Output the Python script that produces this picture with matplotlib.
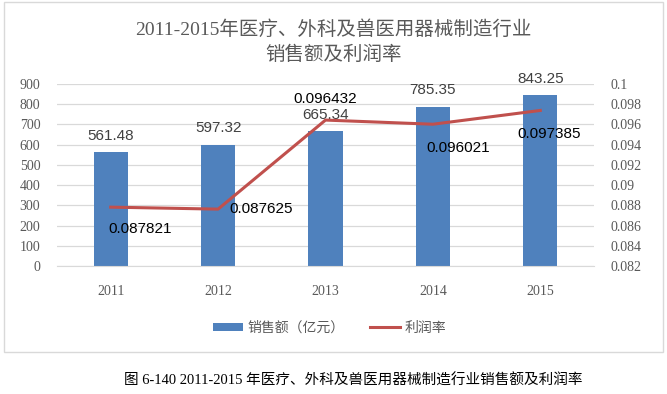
import matplotlib
matplotlib.use("Agg")
import matplotlib.pyplot as plt
from matplotlib.patches import Rectangle

plt.rcParams['font.family'] = ['Liberation Serif', 'Noto Sans CJK SC']

# data
years = ["2011", "2012", "2013", "2014", "2015"]
sales = [561.48, 597.32, 665.34, 785.35, 843.25]
profit = [0.087821, 0.087625, 0.096432, 0.096021, 0.097385]

left_ticks = [0, 100, 200, 300, 400, 500, 600, 700, 800, 900]
right_ticks = [0.082, 0.084, 0.086, 0.088, 0.09, 0.092, 0.094, 0.096, 0.098, 0.1]
right_tick_labels = ["0.082", "0.084", "0.086", "0.088", "0.09", "0.092", "0.094", "0.096", "0.098", "0.1"]

bar_color = "#4F81BD"
line_color = "#C0504D"
gray = "#595959"

fig = plt.figure(figsize=(6.67, 3.94), dpi=100)

# chart border
fig.patches.append(Rectangle((4 / 667, 1 - 352 / 394), 659 / 667, 350 / 394,
                             transform=fig.transFigure, fill=False,
                             edgecolor="#D9D9D9", linewidth=1))

ax = fig.add_axes([57 / 667, 1 - 266 / 394, 537 / 667, 182 / 394])
x = list(range(len(years)))
ax.bar(x, sales, width=0.32, color=bar_color, zorder=2, label="销售额（亿元）")
ax.set_xlim(-0.5, len(years) - 0.5)
ax.set_ylim(0, 900)
ax.set_yticks(left_ticks)
ax.set_xticks(x)
ax.set_xticklabels(years)
ax.grid(axis="y", color="#D9D9D9", linewidth=0.9, zorder=0)
for s in ax.spines.values():
    s.set_visible(False)
ax.spines["bottom"].set_visible(True)
ax.spines["bottom"].set_color("#D9D9D9")
ax.tick_params(axis="both", length=0, colors=gray, labelsize=10)
ax.tick_params(axis="x", pad=14)
ax.tick_params(axis="y", pad=12)

for xi, v in zip(x, sales):
    ax.annotate(f"{v:.2f}", (xi, v), xytext=(0, 7), textcoords="offset points",
                ha="center", va="bottom", fontsize=11, color="#404040",
                family=["Liberation Sans", "Noto Sans CJK SC"])

ax2 = ax.twinx()
ax2.plot(x, profit, color=line_color, linewidth=2.2, zorder=3, label="利润率")
ax2.set_ylim(0.082, 0.1)
ax2.set_yticks(right_ticks)
ax2.set_yticklabels(right_tick_labels)
for s in ax2.spines.values():
    s.set_visible(False)
ax2.tick_params(axis="y", length=0, colors=gray, labelsize=10, pad=12)

# label offsets (points) for the profit labels
offsets = [(21, -11, "center", "top"), (8, 0, "left", "center"),
           (0, 10, "center", "bottom"), (18, -12, "center", "top"),
           (6, -12, "center", "top")]
for xi, v, (dx, dy, ha, va) in zip(x, profit, offsets):
    ax2.annotate(f"{v:.6f}", (xi, v),
                 xytext=(dx, dy), textcoords="offset points",
                 ha=ha, va=va, fontsize=11, color="black",
                 family=["Liberation Sans", "Noto Sans CJK SC"])

fig.text(0.5, 1 - 30 / 394, "2011-2015年医疗、外科及兽医用器械制造行业",
         ha="center", va="center", fontsize=14, color=gray)
fig.text(0.5, 1 - 55 / 394, "销售额及利润率",
         ha="center", va="center", fontsize=14, color=gray)

h1, l1 = ax.get_legend_handles_labels()
h2, l2 = ax2.get_legend_handles_labels()
fig.legend(h1 + h2, l1 + l2, loc="center", bbox_to_anchor=(0.494, 1 - 328 / 394),
           ncol=2, frameon=False, fontsize=10, labelcolor=gray,
           handlelength=2.2, handleheight=0.5, columnspacing=1.8, handletextpad=0.3)

fig.text(353 / 667, 1 - 381 / 394, "图 6-140 2011-2015 年医疗、外科及兽医用器械制造行业销售额及利润率",
         ha="center", va="center", fontsize=10.5, color="black")

fig.savefig("out.png", dpi=100)
